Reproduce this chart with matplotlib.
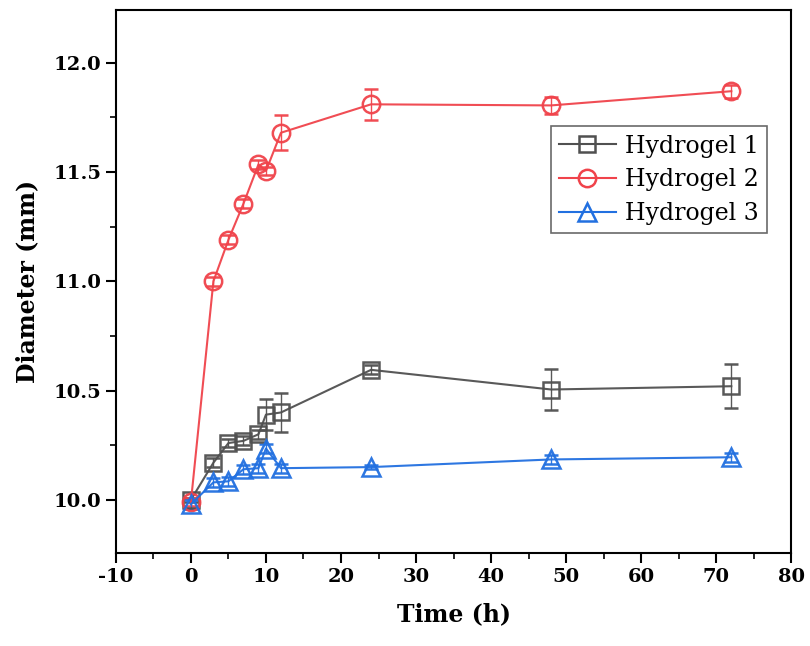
import numpy as np
import matplotlib.pyplot as plt
from matplotlib.ticker import MultipleLocator
from matplotlib.lines import Line2D

# Sampling times (h)
time_h = [0, 3, 5, 7, 9, 10, 12, 24, 48, 72]

# Diameters (mm)
hydrogel1 = [10.00, 10.17, 10.26, 10.27, 10.30, 10.39, 10.40, 10.595, 10.505, 10.52]
hydrogel1_err = [0.01, 0.02, 0.02, 0.02, 0.02, 0.07, 0.09, 0.02, 0.095, 0.10]

hydrogel2 = [9.99, 11.00, 11.19, 11.355, 11.535, 11.505, 11.68, 11.81, 11.805, 11.87]
hydrogel2_err = [0.02, 0.02, 0.02, 0.02, 0.02, 0.02, 0.08, 0.07, 0.04, 0.03]

hydrogel3 = [9.98, 10.08, 10.085, 10.14, 10.145, 10.235, 10.145, 10.15, 10.185, 10.195]
hydrogel3_err = [0.02, 0.02, 0.02, 0.02, 0.02, 0.02, 0.02, 0.01, 0.02, 0.02]

labels = ['Hydrogel 1', 'Hydrogel 2', 'Hydrogel 3']
colors = ['#505050', '#F0434B', '#2270E0']

plt.rcParams['font.family'] = ['DejaVu Serif']
plt.rcParams['axes.unicode_minus'] = False

fig = plt.figure(figsize=(8.1, 6.46), dpi=100)
ax = fig.add_axes([0.143, 0.144, 0.834, 0.841])

series = [(hydrogel1, hydrogel1_err, 's', 11),
          (hydrogel2, hydrogel2_err, 'o', 12.5),
          (hydrogel3, hydrogel3_err, '^', 12.5)]
handles = []
for (vals, err, mk, ms), lab, c in zip(series, labels, colors):
    ax.errorbar(time_h, vals, yerr=err, color=c, marker=mk, markersize=ms,
                markerfacecolor='none', markeredgewidth=1.8, linewidth=1.5,
                elinewidth=1, capsize=5, capthick=1, ecolor=c, alpha=0.95)
    handles.append(Line2D([], [], color=c, marker=mk, markersize=ms,
                          markerfacecolor='none', markeredgewidth=1.8,
                          linewidth=1.5, label=lab))

ax.set_xlim(-10, 80)
ax.set_ylim(9.757, 12.243)
ax.xaxis.set_major_locator(MultipleLocator(10))
ax.xaxis.set_minor_locator(MultipleLocator(5))
ax.yaxis.set_major_locator(MultipleLocator(0.5))
ax.yaxis.set_minor_locator(MultipleLocator(0.25))
ax.yaxis.set_major_formatter(plt.FormatStrFormatter('%.1f'))

ax.tick_params(which='major', length=7, width=1.5, labelsize=14)
ax.tick_params(which='minor', length=4, width=1.2)
for lbl in ax.get_xticklabels() + ax.get_yticklabels():
    lbl.set_fontweight('bold')
for s in ax.spines.values():
    s.set_linewidth(1.5)

ax.set_xlabel('Time (h)', fontsize=17, fontweight='bold', labelpad=12)
ax.set_ylabel('Diameter (mm)', fontsize=17, fontweight='bold', labelpad=10)

leg = ax.legend(handles=handles, loc='upper left',
                bbox_to_anchor=(0.644, 0.785), fontsize=17,
                frameon=True, fancybox=False, edgecolor='#444444',
                handlelength=2.4, handletextpad=0.4, borderpad=0.35,
                labelspacing=0.45, borderaxespad=0)
leg.get_frame().set_linewidth(1.2)

plt.savefig('out.png', dpi=100)
